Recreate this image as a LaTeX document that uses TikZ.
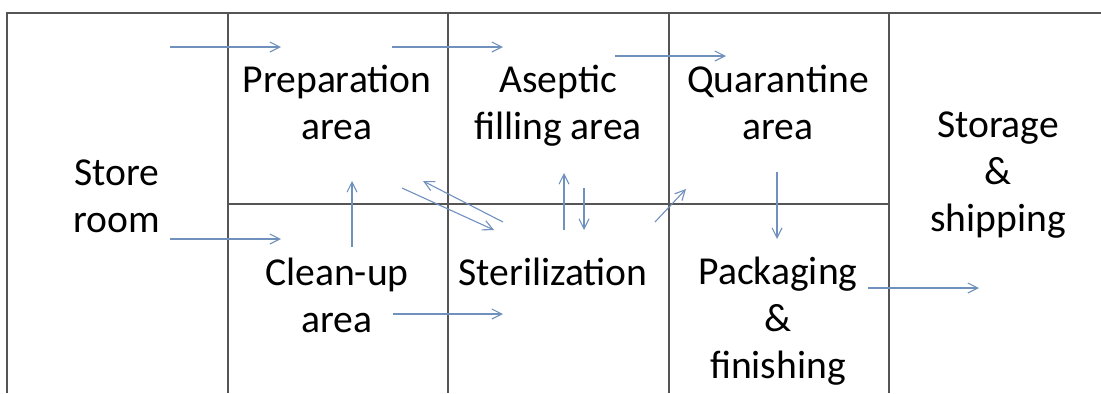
\documentclass[tikz,border=0pt]{standalone}
\usepackage{fontspec}
\setmainfont{Carlito}
\usetikzlibrary{arrows.meta}
\definecolor{wallc}{RGB}{85,85,85}
\definecolor{flowc}{RGB}{112,144,190}
\begin{document}
\begin{tikzpicture}[x=0.5pt,y=-0.5pt,
  wall/.style={draw=wallc,line width=1pt},
  flow/.style={draw=flowc,line width=0.55pt,-{Straight Barb[length=5pt,width=5pt]}},
  room/.style={anchor=base,align=center,inner sep=0pt,font=\fontsize{19.8pt}{23.3pt}\selectfont,text=black}]
\useasboundingbox[fill=white] (0,0) rectangle (1101,393);
% walls
\draw[wall] (7,393) -- (7,13) -- (1101,13);
\foreach \x in {228,448,669,889} \draw[wall] (\x,13) -- (\x,393);
\draw[wall] (228,204) -- (889,204);
% room labels (anchored at the baseline of the last line)
\node[room] (store) at (117,232) {Store\\room};
\node[room] (prep) at (337,139) {Preparation\\area};
\node[room] (asep) at (558,139) {Aseptic\\filling area};
\node[room] (quar) at (778,139) {Quarantine\\area};
\node[room] (stor) at (998,231) {Storage\\\&\\shipping};
\node[room] (clean) at (337,332) {Clean-up\\area};
\node[room] (steril) at (553,285) {Sterilization};
\node[room] (pack) at (778,378) {Packaging\\\&\\finishing};
% arrow end points
\coordinate (a1s) at (170,47);  \coordinate (a1e) at (281,47);
\coordinate (a2s) at (392,47);  \coordinate (a2e) at (503,47);
\coordinate (a3s) at (615,56);  \coordinate (a3e) at (726,56);
\coordinate (a4s) at (170,239); \coordinate (a4e) at (281,239);
\coordinate (a5s) at (393,314); \coordinate (a5e) at (503,314);
\coordinate (a6s) at (352,247); \coordinate (a6e) at (352,181);
\coordinate (a7s) at (402,188); \coordinate (a7e) at (494,230);
\coordinate (a8s) at (503,222); \coordinate (a8e) at (423,181);
\coordinate (a9s) at (564,230); \coordinate (a9e) at (564,173);
\coordinate (a10s) at (584,188); \coordinate (a10e) at (584,230);
\coordinate (a11s) at (655,222); \coordinate (a11e) at (686,189);
\coordinate (a12s) at (777,172); \coordinate (a12e) at (777,239);
\coordinate (a13s) at (868,288); \coordinate (a13e) at (979,288);
% flows
\foreach \i in {1,...,13} \draw[flow] (a\i s) -- (a\i e);
\end{tikzpicture}
\end{document}
